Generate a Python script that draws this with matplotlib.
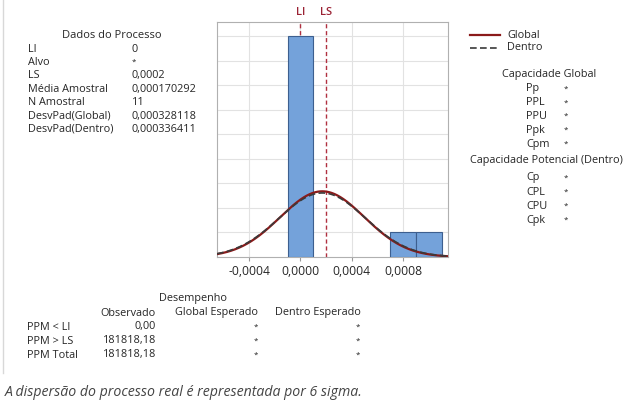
import numpy as np
import matplotlib
matplotlib.use("Agg")
import matplotlib.pyplot as plt
from matplotlib.lines import Line2D
from matplotlib.ticker import FuncFormatter

plt.rcParams['font.family'] = ['Open Sans', 'DejaVu Sans']

# Histogram of the process data (bins of width 0.0002)
bin_edges = [-0.0001, 0.0001, 0.0007, 0.0009, 0.0011]
bin_counts = [9, 0, 1, 1]
LI = 0.0
LS = 0.0002
media = 0.000170292
n_amostral = 11
dp_global = 0.000328118
dp_dentro = 0.000336411
x_ticks = [-0.0004, 0.0, 0.0004, 0.0008]

dados_labels = ["LI", "Alvo", "LS", "Média Amostral", "N Amostral",
                "DesvPad(Global)", "DesvPad(Dentro)"]
dados_values = ["0", "*", "0,0002", "0,000170292", "11",
                "0,000328118", "0,000336411"]
cap_global = ["Pp", "PPL", "PPU", "Ppk", "Cpm"]
cap_dentro = ["Cp", "CPL", "CPU", "Cpk"]
ppm_rows = ["PPM < LI", "PPM > LS", "PPM Total"]
ppm_obs = ["0,00", "181818,18", "181818,18"]

W, H = 627, 403
fig = plt.figure(figsize=(W / 100, H / 100), dpi=100)
fig.patch.set_facecolor("white")

def fx(px):
    return px / W

def fy(py):
    return 1 - py / H

TXT = "#262626"
FS = 7.8
STAR = FS - 2

ax = fig.add_axes([fx(217), fy(257), fx(448 - 217), (257 - 22) / H])
xmin, xmax = -0.00065, 0.00115
ax.set_xlim(xmin, xmax)
ax.set_ylim(0, 9.57)

lefts = bin_edges[:-1]
widths = np.diff(bin_edges)
bw = 0.0002
for l, w, c in zip(lefts, widths, bin_counts):
    if c <= 0:
        continue
    k = int(round(w / bw))
    for j in range(k):
        ax.bar(l + j * bw, c, width=bw, align="edge", color="#74a2da",
               edgecolor="#3d5f8f", linewidth=0.8, zorder=3)

# Specification limits
for v in (LI, LS):
    ax.axvline(v, color="#b03040", linestyle=(0, (3, 2)), linewidth=1.0, zorder=2)
    ax.text(v, 9.57 + 0.15, "LI" if v == LI else "LS", color="#9b2335",
            ha="center", va="bottom", fontsize=8, fontweight="semibold")

xs = np.linspace(xmin, xmax, 400)
scale = n_amostral * bw
g = scale / (dp_global * np.sqrt(2 * np.pi)) * np.exp(-0.5 * ((xs - media) / dp_global) ** 2)
d = scale / (dp_dentro * np.sqrt(2 * np.pi)) * np.exp(-0.5 * ((xs - media) / dp_dentro) ** 2)
ax.plot(xs, g, color="#8b1a1a", linewidth=1.6, zorder=5)
ax.plot(xs, d, color="#3a3a3a", linewidth=1.2, linestyle=(0, (4, 2)), zorder=6)

ax.set_xticks(x_ticks)
ax.xaxis.set_major_formatter(FuncFormatter(lambda v, p: f"{v:.4f}".replace(".", ",").replace("-0,0000", "0,0000")))
ax.set_yticks(np.arange(1, 10))
ax.tick_params(axis="y", left=False, labelleft=False)
ax.tick_params(axis="x", length=3, color="#999999", labelsize=8.7, labelcolor=TXT, pad=3)
ax.grid(True, color="#e2e2e2", linewidth=0.8, zorder=0)
ax.set_axisbelow(True)
for s in ax.spines.values():
    s.set_color("#b0b0b0")
    s.set_linewidth(0.8)

# Process data block
fig.text(fx(112), fy(36), "Dados do Processo", ha="center", va="center", fontsize=FS + 0.2, color=TXT)
for i, (lab, val) in enumerate(zip(dados_labels, dados_values)):
    yy = 49 + i * 13.4
    fig.text(fx(28), fy(yy), lab, ha="left", va="center", fontsize=FS, color=TXT)
    fig.text(fx(132), fy(yy), val, ha="left", va="center",
             fontsize=STAR if val == "*" else FS, color=TXT)

# Legend
fig.add_artist(Line2D([fx(470), fx(500)], [fy(35), fy(35)], color="#8b1a1a", linewidth=1.6))
fig.add_artist(Line2D([fx(470), fx(500)], [fy(48), fy(48)], color="#3a3a3a", linewidth=1.2,
                      linestyle=(0, (4, 2))))
fig.text(fx(507), fy(35), "Global", ha="left", va="center", fontsize=FS, color=TXT)
fig.text(fx(507), fy(48), "Dentro", ha="left", va="center", fontsize=FS, color=TXT)

fig.text(fx(549), fy(75), "Capacidade Global", ha="center", va="center", fontsize=FS, color=TXT)
for i, lab in enumerate(cap_global):
    yy = 89 + i * 13.8
    fig.text(fx(526), fy(yy), lab, ha="left", va="center", fontsize=FS, color=TXT)
    fig.text(fx(566), fy(yy), "*", ha="center", va="center", fontsize=STAR, color=TXT)
fig.text(fx(546), fy(160), "Capacidade Potencial (Dentro)", ha="center", va="center", fontsize=FS, color=TXT)
for i, lab in enumerate(cap_dentro):
    yy = 178 + i * 14
    fig.text(fx(526), fy(yy), lab, ha="left", va="center", fontsize=FS, color=TXT)
    fig.text(fx(566), fy(yy), "*", ha="center", va="center", fontsize=STAR, color=TXT)

# Performance table
fig.text(fx(193), fy(298), "Desempenho", ha="center", va="center", fontsize=FS, color=TXT)
fig.text(fx(156), fy(313), "Observado", ha="right", va="center", fontsize=FS, color=TXT)
fig.text(fx(258), fy(313), "Global Esperado", ha="right", va="center", fontsize=FS, color=TXT)
fig.text(fx(361), fy(313), "Dentro Esperado", ha="right", va="center", fontsize=FS, color=TXT)
for i, (lab, val) in enumerate(zip(ppm_rows, ppm_obs)):
    yy = 327 + i * 14
    fig.text(fx(27), fy(yy), lab, ha="left", va="center", fontsize=FS, color=TXT)
    fig.text(fx(156), fy(yy), val, ha="right", va="center", fontsize=FS, color=TXT)
    fig.text(fx(258), fy(yy), "*", ha="right", va="center", fontsize=STAR, color=TXT)
    fig.text(fx(360), fy(yy), "*", ha="right", va="center", fontsize=STAR, color=TXT)

# Panel edge
fig.add_artist(Line2D([fx(3), fx(3)], [fy(0), fy(373)], color="#d8d8d8", linewidth=1.0))

fig.text(fx(5), fy(392), "A dispersão do processo real é representada por 6 sigma.",
         ha="left", va="center", fontsize=10.2, style="italic", color="#444444")

fig.savefig("out.png", dpi=100, facecolor="white")
